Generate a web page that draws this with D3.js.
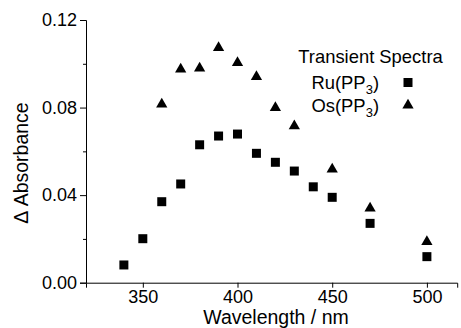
<!DOCTYPE html>
<html>
<head>
<meta charset="utf-8">
<script src="https://d3js.org/d3.v7.min.js"></script>
<style>
body { margin: 0; background: #fff; }
svg text { font-family: "Liberation Sans", Arial, sans-serif; fill: #000; }
.axis path, .axis line { stroke: #000; stroke-width: 1; fill: none; }
.axis text { font-size: 18px; }
</style>
</head>
<body>
<script>
// values
var ruWave = [340, 350, 360, 370, 380, 390, 400, 410, 420, 430, 440, 450, 470, 500];
var ruAbs  = [0.0081, 0.0201, 0.037, 0.0451, 0.0630, 0.0670, 0.0679, 0.0591, 0.0550, 0.0510, 0.0438, 0.0390, 0.0271, 0.0119];
var osWave = [360, 370, 380, 390, 400, 410, 420, 430, 450, 470, 500];
var osAbs  = [0.0815, 0.0975, 0.0980, 0.1073, 0.1005, 0.0941, 0.0799, 0.0716, 0.0518, 0.0340, 0.0187];
var xTicks = [350, 400, 450, 500];
var yTicks = [0, 0.04, 0.08, 0.12];
var yMinor = [0.02, 0.06, 0.10];
var legendNames = ["Ru(PP", "Os(PP"];

var W = 461, H = 328;
var svg = d3.select("body").append("svg").attr("width", W).attr("height", H);

var x = d3.scaleLinear().domain([320, 516]).range([86, 457.2]);
var y = d3.scaleLinear().domain([0, 0.12]).range([282.7, 20]);

// y axis
svg.append("g").attr("class", "axis")
  .attr("transform", "translate(" + x(320) + ",0)")
  .call(d3.axisLeft(y).tickValues(yTicks).tickFormat(d3.format(".2f")).tickSizeOuter(0).tickSize(6).tickPadding(3));
svg.append("g").attr("class", "axis")
  .attr("transform", "translate(" + x(320) + ",0)")
  .call(d3.axisLeft(y).tickValues(yMinor).tickFormat("").tickSizeOuter(0).tickSize(3))
  .select(".domain").remove();

// x axis
svg.append("g").attr("class", "axis")
  .attr("transform", "translate(0," + y(0) + ")")
  .call(d3.axisBottom(x).tickValues(xTicks).tickSizeOuter(0).tickSize(5).tickPadding(3));

// axis titles
svg.append("text")
  .attr("transform", "translate(28," + 163 + ") rotate(-90)")
  .attr("text-anchor", "middle")
  .style("font-size", "19.5px")
  .text("\u0394 Absorbance");
svg.append("text")
  .attr("x", 276).attr("y", 324)
  .attr("text-anchor", "middle")
  .style("font-size", "19.5px")
  .text("Wavelength / nm");

var sq = d3.symbol().type(d3.symbolSquare).size(81);
var tri = d3.symbol().type(d3.symbolTriangle).size(55);

svg.append("g").selectAll("path").data(ruWave).enter().append("path")
  .attr("d", sq)
  .attr("transform", function(d, i) { return "translate(" + x(d) + "," + y(ruAbs[i]) + ")"; })
  .attr("fill", "#000");

svg.append("g").selectAll("path").data(osWave).enter().append("path")
  .attr("d", tri)
  .attr("transform", function(d, i) { return "translate(" + x(d) + "," + y(osAbs[i]) + ")"; })
  .attr("fill", "#000");

// legend
var lg = svg.append("g");
lg.append("text").attr("x", 370.5).attr("y", 63.3)
  .attr("text-anchor", "middle").style("font-size", "18.4px")
  .text("Transient Spectra");

legendNames.forEach(function(name, i) {
  var by = 89 + i * 22.7;
  var t = lg.append("text").attr("x", 379).attr("y", by)
    .attr("text-anchor", "end").style("font-size", "18.4px");
  t.append("tspan").text(name);
  t.append("tspan").attr("dy", 5).style("font-size", "13px").text("3");
  t.append("tspan").attr("dy", -5).text(")");
  lg.append("path")
    .attr("d", i === 0 ? sq : tri)
    .attr("transform", "translate(408," + (by - 6.5) + ")")
    .attr("fill", "#000");
});
</script>
</body>
</html>
